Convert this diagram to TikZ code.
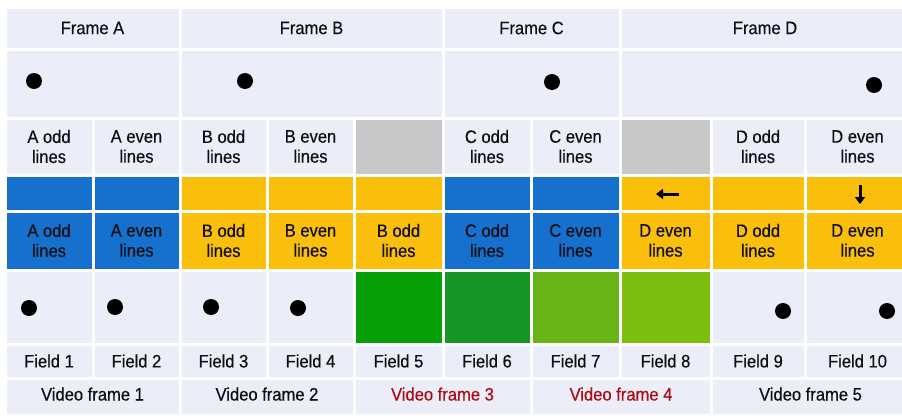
\documentclass[tikz,border=0pt]{standalone}
\usepackage{fontspec}
\setmainfont[FakeStretch=0.92,FakeBold=0.4]{Liberation Sans}
\usetikzlibrary{arrows.meta}
\definecolor{cellbg}{RGB}{235,238,248}
\definecolor{fblue}{RGB}{22,112,205}
\definecolor{fyellow}{RGB}{250,190,12}
\definecolor{fgray}{RGB}{200,200,202}
\definecolor{gA}{RGB}{8,160,8}
\definecolor{gB}{RGB}{22,150,38}
\definecolor{gC}{RGB}{104,180,22}
\definecolor{gD}{RGB}{122,190,14}
\definecolor{vred}{RGB}{172,12,22}
\definecolor{txt}{RGB}{15,15,20}
\tikzset{
  cellbase/.style={inner sep=0pt, outer sep=0pt, draw=none, align=center,
    font=\fontsize{18}{20}\selectfont, text=txt},
  light/.style={fill=cellbg},
  blue/.style={fill=fblue},
  yel/.style={fill=fyellow},
  grey/.style={fill=fgray},
  dotn/.style={circle, fill=black, inner sep=0pt, minimum size=16pt},
  bigarrow/.style={line width=3pt, -{Triangle[length=7pt,width=10pt]}}
}
\newcommand\mkcell[7]{%
  \pgfmathsetmacro\mycx{(#2+#3)/2}%
  \pgfmathsetmacro\mycy{(#4+#5)/2}%
  \pgfmathsetmacro\mycw{#3-#2-3}%
  \pgfmathsetmacro\mych{#5-#4-3}%
  \node[cellbase,#6,minimum width=\mycw pt,minimum height=\mych pt] (#1) at (\mycx,\mycy) {#7};}
\begin{document}
\begin{tikzpicture}[x=1pt,y=-1pt]
\useasboundingbox (0,0) rectangle (902,415);
\fill[white] (0,0) rectangle (902,415);
% header row
\mkcell{hA}{5}{180}{7}{49}{light}{Frame A}
\mkcell{hB}{180}{443}{7}{49}{light}{Frame B}
\mkcell{hC}{443}{620}{7}{49}{light}{Frame C}
\mkcell{hD}{620}{910}{7}{49}{light}{Frame D}
% top dot row
\mkcell{tA}{5}{180}{49}{118}{light}{}
\mkcell{tB}{180}{443}{49}{118}{light}{}
\mkcell{tC}{443}{620}{49}{118}{light}{}
\mkcell{tD}{620}{910}{49}{118}{light}{}
\node[dotn] (dA) at (34,81) {};
\node[dotn] (dB) at (245,81) {};
\node[dotn] (dC) at (552,82) {};
\node[dotn] (dD) at (874,85) {};
% text row
\mkcell{s1}{5}{93}{118}{175}{light}{A odd\\lines}
\mkcell{s2}{93}{180}{118}{175}{light}{A even\\lines}
\mkcell{s3}{180}{267}{118}{175}{light}{B odd\\lines}
\mkcell{s4}{267}{354}{118}{175}{light}{B even\\lines}
\mkcell{s5}{354}{443}{118}{175}{grey}{}
\mkcell{s6}{443}{531}{118}{175}{light}{C odd\\lines}
\mkcell{s7}{531}{620}{118}{175}{light}{C even\\lines}
\mkcell{s8}{620}{711}{118}{175}{grey}{}
\mkcell{s9}{711}{805}{118}{175}{light}{D odd\\lines}
\mkcell{s10}{805}{910}{118}{175}{light}{D even\\lines}
% band 1
\mkcell{b1}{5}{93}{175}{211}{blue}{}
\mkcell{b2}{93}{180}{175}{211}{blue}{}
\mkcell{b3}{180}{267}{175}{211}{yel}{}
\mkcell{b4}{267}{354}{175}{211}{yel}{}
\mkcell{b5}{354}{443}{175}{211}{yel}{}
\mkcell{b6}{443}{531}{175}{211}{blue}{}
\mkcell{b7}{531}{620}{175}{211}{blue}{}
\mkcell{b8}{620}{711}{175}{211}{yel}{}
\mkcell{b9}{711}{805}{175}{211}{yel}{}
\mkcell{b10}{805}{910}{175}{211}{yel}{}
\coordinate (la) at (679,194);
\coordinate (lb) at (656,194);
\draw[bigarrow] (la) -- (lb);
\coordinate (da) at (860,185);
\coordinate (db) at (860,204);
\draw[bigarrow] (da) -- (db);
% band 2
\mkcell{c1}{5}{93}{211}{270}{blue}{A odd\\lines}
\mkcell{c2}{93}{180}{211}{270}{blue}{A even\\lines}
\mkcell{c3}{180}{267}{211}{270}{yel}{B odd\\lines}
\mkcell{c4}{267}{354}{211}{270}{yel}{B even\\lines}
\mkcell{c5}{354}{443}{211}{270}{yel}{B odd\\lines}
\mkcell{c6}{443}{531}{211}{270}{blue}{C odd\\lines}
\mkcell{c7}{531}{620}{211}{270}{blue}{C even\\lines}
\mkcell{c8}{620}{711}{211}{270}{yel}{D even\\lines}
\mkcell{c9}{711}{805}{211}{270}{yel}{D odd\\lines}
\mkcell{c10}{805}{910}{211}{270}{yel}{D even\\lines}
% bottom row
\mkcell{e1}{5}{93}{270}{344}{light}{}
\mkcell{e2}{93}{180}{270}{344}{light}{}
\mkcell{e3}{180}{267}{270}{344}{light}{}
\mkcell{e4}{267}{354}{270}{344}{light}{}
\mkcell{e5}{354}{443}{270}{344}{fill=gA}{}
\mkcell{e6}{443}{531}{270}{344}{fill=gB}{}
\mkcell{e7}{531}{620}{270}{344}{fill=gC}{}
\mkcell{e8}{620}{711}{270}{344}{fill=gD}{}
\mkcell{e9}{711}{805}{270}{344}{light}{}
\mkcell{e10}{805}{910}{270}{344}{light}{}
\node[dotn] (f1) at (29,308) {};
\node[dotn] (f2) at (115,307) {};
\node[dotn] (f3) at (211,307) {};
\node[dotn] (f4) at (298,308) {};
\node[dotn] (f9) at (783,311) {};
\node[dotn] (f10) at (887,311) {};
% field row
\mkcell{g1}{5}{93}{344}{378}{light}{Field 1}
\mkcell{g2}{93}{180}{344}{378}{light}{Field 2}
\mkcell{g3}{180}{267}{344}{378}{light}{Field 3}
\mkcell{g4}{267}{354}{344}{378}{light}{Field 4}
\mkcell{g5}{354}{443}{344}{378}{light}{Field 5}
\mkcell{g6}{443}{531}{344}{378}{light}{Field 6}
\mkcell{g7}{531}{620}{344}{378}{light}{Field 7}
\mkcell{g8}{620}{711}{344}{378}{light}{Field 8}
\mkcell{g9}{711}{805}{344}{378}{light}{Field 9}
\mkcell{g10}{805}{910}{344}{378}{light}{Field 10}
% video frame row
\mkcell{v1}{5}{180}{378}{415}{light}{\raisebox{5pt}{Video frame 1}}
\mkcell{v2}{180}{354}{378}{415}{light}{\raisebox{5pt}{Video frame 2}}
\mkcell{v3}{354}{531}{378}{415}{light,text=vred}{\raisebox{5pt}{Video frame 3}}
\mkcell{v4}{531}{711}{378}{415}{light,text=vred}{\raisebox{5pt}{Video frame 4}}
\mkcell{v5}{711}{910}{378}{415}{light}{\raisebox{5pt}{Video frame 5}}
\end{tikzpicture}
\end{document}
